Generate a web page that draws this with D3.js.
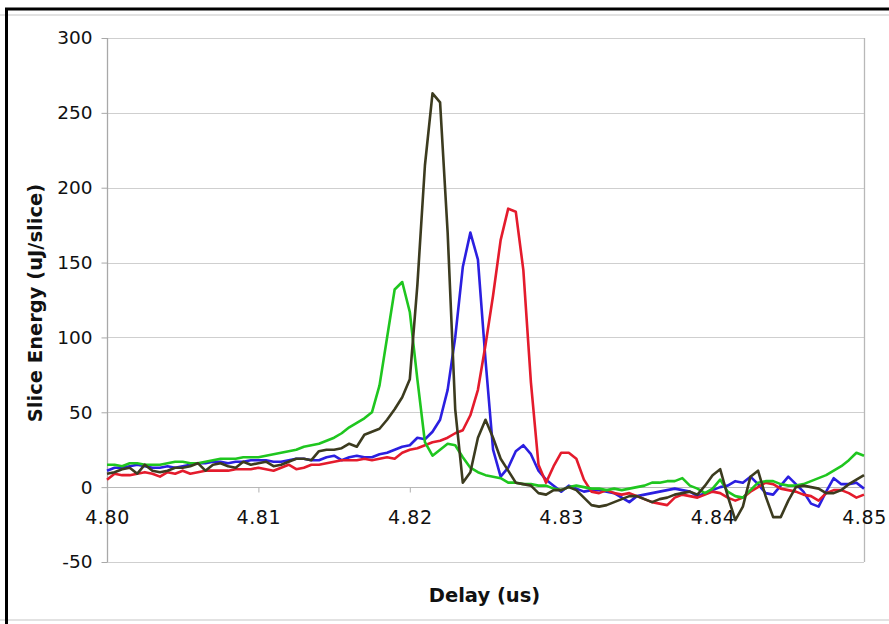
<!DOCTYPE html>
<html>
<head>
<meta charset="utf-8">
<script src="https://cdn.jsdelivr.net/npm/d3@7"></script>
<style>
  html, body { margin: 0; padding: 0; background: #fff; }
  svg { display: block; }
  text { font-family: "DejaVu Sans", Verdana, sans-serif; fill: #111; }
</style>
</head>
<body>
<svg id="chart" width="889" height="624"></svg>
<script>
// Delay sampling grid (us)
const delayStart = 4.80;
const delayStep = 0.0005;

// Slice energy per shot (uJ/slice), one value per delay step
const seriesGreen = [
  15, 15, 14, 16, 16, 15, 15, 15, 16, 17,
  17, 16, 16, 17, 18, 19, 19, 19, 20, 20,
  20, 21, 22, 23, 24, 25, 27, 28, 29, 31,
  33, 36, 40, 43, 46, 50, 68, 100, 132, 137,
  117, 72, 30, 21, 25, 29, 28, 20, 13, 10,
  8, 7, 6, 3, 3, 2, 2, 1, 1, -1,
  -2, 0, 1, 0, -1, -1, -2, -1, -2, -1,
  0, 1, 3, 3, 4, 4, 6, 1, -1, -4,
  -1, 5, -3, -6, -7, -2, 3, 4, 4, 2,
  1, 1, 2, 4, 6, 8, 11, 14, 18, 23,
  21
];
const seriesOlive = [
  9, 10, 12, 13, 9, 15, 11, 10, 11, 13,
  13, 14, 16, 11, 15, 16, 14, 13, 17, 15,
  16, 17, 14, 15, 17, 19, 19, 18, 24, 25,
  25, 26, 29, 27, 35, 37, 39, 45, 52, 60,
  72, 135, 215, 263, 257, 170, 52, 3, 10, 33,
  45, 33, 19, 11, 3, 2, 1, -4, -5, -2,
  -2, 0, -2, -7, -12, -13, -12, -10, -8, -6,
  -6, -8, -10, -8, -7, -5, -4, -3, -5, 1,
  8, 12, -6, -22, -13, 7, 11, -6, -20, -20,
  -9, 0, 1, 0, -1, -4, -4, -2, 2, 5,
  8
];
const seriesBlue = [
  11, 13, 13, 14, 15, 14, 13, 13, 14, 13,
  14, 15, 16, 16, 17, 17, 16, 17, 17, 18,
  18, 18, 17, 17, 18, 19, 19, 18, 18, 20,
  21, 18, 20, 21, 20, 20, 22, 23, 25, 27,
  28, 33, 32, 37, 45, 65, 100, 147, 170, 152,
  85, 25, 7, 13, 24, 28, 22, 11, 5, 1,
  -3, 1, -1, -3, -2, -2, -3, -4, -7, -10,
  -6, -5, -4, -3, -2, -1, -2, -3, -6, -4,
  -2, 0, 1, 4, 3, 7, 2, -4, -5, 1,
  7, 2, -3, -11, -13, -3, 6, 2, 2, 3,
  -1
];
const seriesRed = [
  5, 9, 8, 8, 9, 10, 9, 7, 10, 9,
  11, 9, 10, 11, 11, 11, 11, 12, 12, 12,
  13, 12, 11, 13, 15, 12, 13, 15, 15, 16,
  17, 18, 18, 18, 19, 18, 19, 20, 19, 23,
  25, 26, 28, 30, 31, 33, 36, 38, 48, 65,
  95, 128, 165, 186, 184, 145, 70, 15, 3, 14,
  23, 23, 19, 5, -3, -4, -2, -4, -5, -4,
  -6, -8, -10, -11, -12, -7, -5, -6, -7, -5,
  -3, -4, -7, -9, -7, -3, 0, 3, 2, -1,
  -2, -3, -5, -6, -9, -4, -2, -2, -4, -7,
  -5
];

const seriesList = [
  { values: seriesBlue,  color: "#2b1fe0" },
  { values: seriesRed,   color: "#e41b2c" },
  { values: seriesGreen, color: "#1fc61f" },
  { values: seriesOlive, color: "#3c3b1f" }
];

const yTicks = [300, 250, 200, 150, 100, 50, 0, -50];
const yTickLabels = ["300", "250", "200", "150", "100", "50", "0", "-50"];
const xTicks = [4.80, 4.81, 4.82, 4.83, 4.84, 4.85];
const xTickLabels = ["4.80", "4.81", "4.82", "4.83", "4.84", "4.85"];

const svg = d3.select("#chart");
const plotLeft = 107, plotRight = 864, plotTop = 38, plotBottom = 562;

const x = d3.scaleLinear().domain([4.80, 4.85]).range([plotLeft, plotRight]);
const y = d3.scaleLinear().domain([-50, 300]).range([plotBottom, plotTop]);

// outer frame
svg.append("line").attr("x1", 0).attr("x2", 889).attr("y1", 15).attr("y2", 15)
  .attr("stroke", "#e2e2e2").attr("stroke-width", 2);
svg.append("line").attr("x1", 0).attr("x2", 889).attr("y1", 620).attr("y2", 620)
  .attr("stroke", "#e2e2e2").attr("stroke-width", 2);
svg.append("line").attr("x1", 5).attr("x2", 889).attr("y1", 9).attr("y2", 9)
  .attr("stroke", "#000").attr("stroke-width", 3);
svg.append("line").attr("x1", 6.5).attr("x2", 6.5).attr("y1", 8).attr("y2", 624)
  .attr("stroke", "#000").attr("stroke-width", 3);

// horizontal gridlines
svg.append("g")
  .selectAll("line")
  .data(yTicks)
  .join("line")
  .attr("x1", plotLeft).attr("x2", plotRight)
  .attr("y1", d => Math.round(y(d)) + 0.5).attr("y2", d => Math.round(y(d)) + 0.5)
  .attr("stroke", d => d === 0 ? "#b8b8b8" : "#cfcfcf")
  .attr("stroke-width", 1.2);

// plot border (left, right)
svg.append("line").attr("x1", plotLeft + 0.5).attr("x2", plotLeft + 0.5).attr("y1", plotTop).attr("y2", plotBottom)
  .attr("stroke", "#a8a8a8").attr("stroke-width", 1.3);
svg.append("line").attr("x1", plotRight + 0.5).attr("x2", plotRight + 0.5).attr("y1", plotTop).attr("y2", plotBottom)
  .attr("stroke", "#b8b8b8").attr("stroke-width", 1.3);

// y axis
const yAxis = d3.axisLeft(y).tickValues(yTicks).tickSize(6).tickPadding(9)
  .tickFormat((d, i) => yTickLabels[i]);
const gy = svg.append("g").attr("transform", `translate(${plotLeft + 0.5},0)`).call(yAxis);
gy.select(".domain").remove();
gy.selectAll(".tick line").attr("stroke", "#a8a8a8");
gy.selectAll(".tick text").style("font-size", "18.5px").attr("fill", "#111");

// x axis crossing at zero
const xAxis = d3.axisBottom(x).tickValues(xTicks).tickSize(5).tickPadding(18)
  .tickFormat((d, i) => xTickLabels[i]);
const gx = svg.append("g").attr("transform", `translate(0,${Math.round(y(0)) + 0.5})`).call(xAxis);
gx.select(".domain").remove();
gx.selectAll(".tick line").attr("stroke", "#b0b0b0");
gx.selectAll(".tick text").style("font-size", "19px").style("letter-spacing", "0.6px").attr("fill", "#111");

// data lines
const line = d3.line()
  .x((d, i) => x(delayStart + i * delayStep))
  .y(d => y(d));

svg.append("g")
  .selectAll("path")
  .data(seriesList)
  .join("path")
  .attr("d", s => line(s.values))
  .attr("fill", "none")
  .attr("stroke", s => s.color)
  .attr("stroke-width", 2.6)
  .attr("stroke-linejoin", "round");

// axis titles
svg.append("text")
  .attr("x", (plotLeft + plotRight) / 2 - 1).attr("y", 602)
  .attr("text-anchor", "middle")
  .style("font-size", "19.5px").style("font-weight", "bold")
  .text("Delay (us)");

svg.append("text")
  .attr("transform", `translate(42,${(plotTop + plotBottom) / 2 + 3}) rotate(-90)`)
  .attr("text-anchor", "middle")
  .style("font-size", "19.5px").style("font-weight", "bold")
  .text("Slice Energy (uJ/slice)");
</script>
</body>
</html>
